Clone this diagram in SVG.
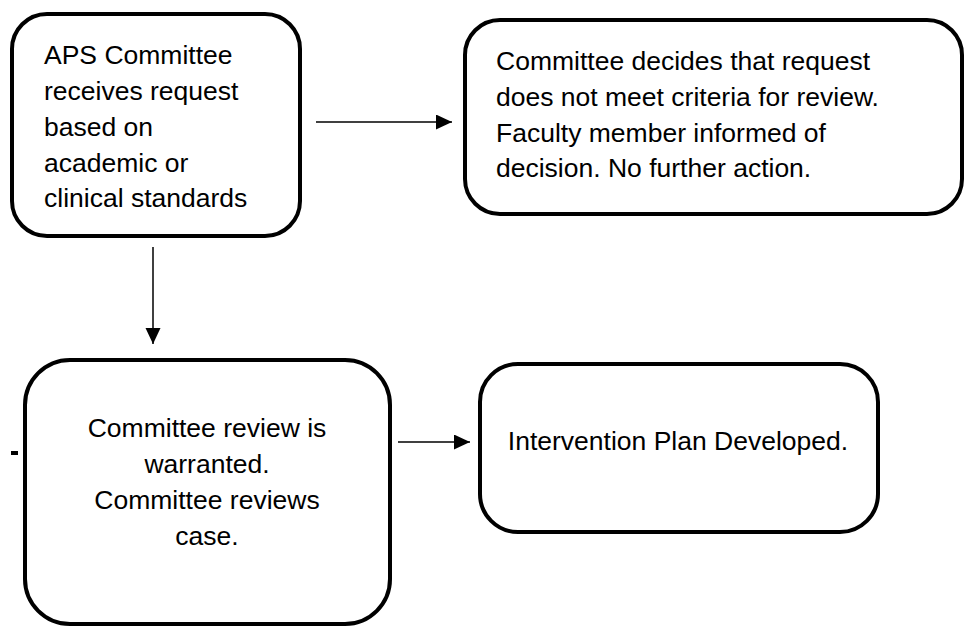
<svg xmlns="http://www.w3.org/2000/svg" width="967" height="628" viewBox="0 0 967 628">
<style>
.box{fill:#fff;stroke:#000;stroke-width:4}
.t{font-family:"Liberation Sans",Arial,sans-serif;font-size:26.5px;fill:#000}
.c{text-anchor:middle}
.conn{stroke:#000;stroke-width:1.5;fill:none}
</style>
<defs>
<marker id="ah" markerUnits="userSpaceOnUse" markerWidth="16" markerHeight="16" refX="16" refY="7.5" orient="auto">
<path d="M0,0 L16,7.5 L0,15 Z" fill="#000"/>
</marker>
</defs>
<rect width="967" height="628" fill="#fff"/>
<g id="connectors">
<line class="conn" x1="316" y1="122" x2="452" y2="122" marker-end="url(#ah)"/>
<line class="conn" x1="153" y1="247" x2="153" y2="344" marker-end="url(#ah)"/>
<line class="conn" x1="398" y1="442" x2="470" y2="442" marker-end="url(#ah)"/>
</g>
<g id="node-request">
<rect class="box" x="12" y="14" width="288" height="222" rx="35"/>
<text class="t" x="44"><tspan x="44" y="64">APS Committee</tspan><tspan x="44" y="100">receives request</tspan><tspan x="44" y="136">based on</tspan><tspan x="44" y="172">academic or</tspan><tspan x="44" y="207">clinical standards</tspan></text>
</g>
<g id="node-no-review">
<rect class="box" x="465" y="20" width="497" height="194" rx="35"/>
<text class="t"><tspan x="496" y="70">Committee decides that request</tspan><tspan x="496" y="106">does not meet criteria for review.</tspan><tspan x="496" y="142">Faculty member informed of</tspan><tspan x="496" y="177">decision. No further action.</tspan></text>
</g>
<g id="node-review">
<rect class="box" x="25" y="360" width="365" height="264" rx="45"/>
<text class="t c"><tspan x="207" y="437">Committee review is</tspan><tspan x="207" y="473">warranted.</tspan><tspan x="207" y="509">Committee reviews</tspan><tspan x="207" y="545">case.</tspan></text>
</g>
<g id="node-plan">
<rect class="box" x="480" y="364" width="398" height="168" rx="38"/>
<text class="t c" x="678" y="450">Intervention Plan Developed.</text>
</g>
<rect x="11" y="451" width="7" height="4" fill="#000"/>
</svg>
